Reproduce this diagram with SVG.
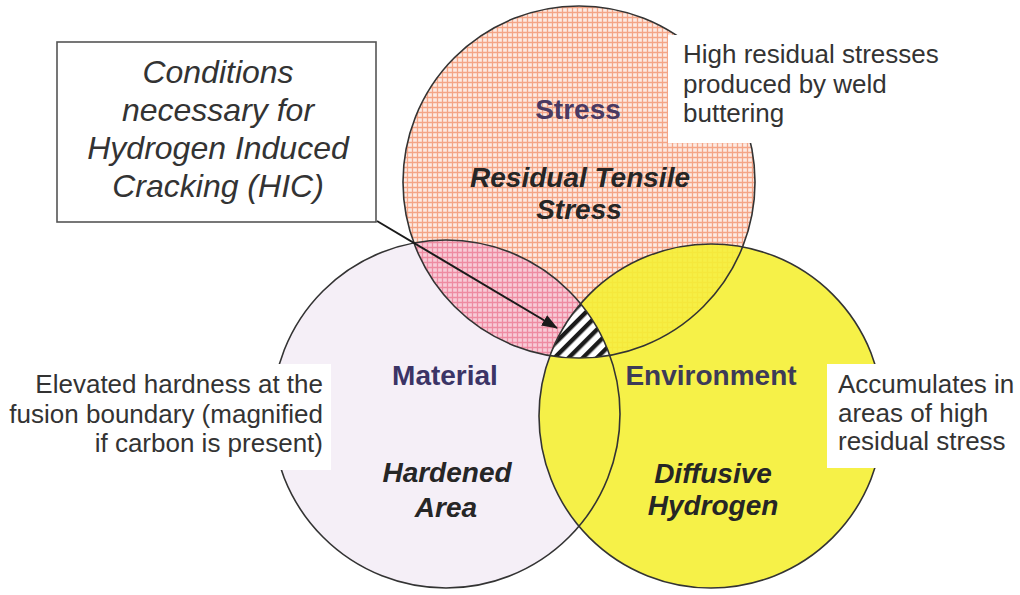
<svg xmlns="http://www.w3.org/2000/svg" width="1020" height="595" viewBox="0 0 1020 595">
<style>
.outline{fill:none;stroke:#333;stroke-width:1.6}
.head{font-family:"Liberation Sans",Arial,sans-serif;font-weight:bold;font-size:28px;text-anchor:middle}
.sub{font-family:"Liberation Sans",Arial,sans-serif;font-weight:bold;font-style:italic;font-size:28px;fill:#262626;text-anchor:middle}
.note{font-family:"Liberation Sans",Arial,sans-serif;font-size:26px;fill:#333}
.box{font-family:"Liberation Sans",Arial,sans-serif;font-style:italic;font-size:32px;fill:#333;text-anchor:middle}
</style>
<defs>
<pattern id="grid" width="5" height="5" patternUnits="userSpaceOnUse">
<rect width="5" height="5" fill="#fdebe4"/>
<path d="M0 2.5H5M2.5 0V5" stroke="#f4a486" stroke-width="1.3"/>
</pattern>
<pattern id="pink" width="5" height="5" patternUnits="userSpaceOnUse">
<rect width="5" height="5" fill="#f8ccd8"/>
<path d="M0 2.5H5M2.5 0V5" stroke="#ee8ba2" stroke-width="1.3"/>
</pattern>
<pattern id="hatch" width="10" height="10" patternUnits="userSpaceOnUse" patternTransform="rotate(45)">
<rect width="10" height="10" fill="#fff"/>
<rect x="3" width="4.4" height="10" fill="#1a1a1a"/>
</pattern>
<clipPath id="cM"><circle cx="446" cy="414" r="174"/></clipPath>
<clipPath id="cS"><circle cx="579" cy="182" r="176"/></clipPath>
<clipPath id="cE"><circle cx="711" cy="416" r="172"/></clipPath>
<marker id="arr" markerWidth="16" markerHeight="12" refX="15" refY="6" orient="auto" markerUnits="userSpaceOnUse">
<path d="M0 0L16 6L0 12Z" fill="#1a1a1a"/>
</marker>
</defs>
<rect width="1020" height="595" fill="#fff"/>

<g id="material">
<circle cx="446" cy="414" r="174" fill="#f5eff7"/>
</g>
<g id="stress">
<circle cx="579" cy="182" r="176" fill="url(#grid)"/>
<circle cx="579" cy="182" r="176" fill="url(#pink)" clip-path="url(#cM)"/>
</g>
<g id="environment">
<circle cx="711" cy="416" r="172" fill="#f5f034" fill-opacity="0.9"/>
</g>
<g id="overlap">
<g clip-path="url(#cS)"><circle cx="446" cy="414" r="174" fill="url(#hatch)" clip-path="url(#cE)"/></g>
</g>
<g id="outlines">
<circle class="outline" cx="446" cy="414" r="174"/>
<circle class="outline" cx="579" cy="182" r="176"/>
<circle class="outline" cx="711" cy="416" r="172"/>
</g>

<g id="labels">
<text class="head" x="578" y="119" fill="#4a3a62" font-size="27">Stress</text>
<text class="sub" x="580" y="187" textLength="220" lengthAdjust="spacingAndGlyphs" font-size="26">Residual Tensile</text>
<text class="sub" x="579" y="219" font-size="26">Stress</text>
<text class="head" x="445" y="385" fill="#3b3466">Material</text>
<text class="sub" x="447" y="482">Hardened</text>
<text class="sub" x="446" y="517">Area</text>
<text class="head" x="711" y="385" fill="#3d3b58">Environment</text>
<text class="sub" x="713" y="483">Diffusive</text>
<text class="sub" x="713" y="515">Hydrogen</text>
</g>

<g id="note-stress">
<rect x="668" y="35" width="282" height="108" fill="#fff"/>
<text class="note" x="683" y="63">High residual stresses</text>
<text class="note" x="683" y="93">produced by weld</text>
<text class="note" x="683" y="122">buttering</text>
</g>
<g id="note-material">
<rect x="0" y="364" width="331" height="106" fill="#fff"/>
<text class="note" x="323" y="393" text-anchor="end">Elevated hardness at the</text>
<text class="note" x="323" y="423" text-anchor="end">fusion boundary (magnified</text>
<text class="note" x="323" y="452" text-anchor="end">if carbon is present)</text>
</g>
<g id="note-environment">
<rect x="827" y="364" width="193" height="104" fill="#fff"/>
<text class="note" x="838" y="393">Accumulates in</text>
<text class="note" x="838" y="422">areas of high</text>
<text class="note" x="838" y="450">residual stress</text>
</g>

<g id="hic-box">
<rect x="57" y="42" width="319" height="180" fill="#fff" stroke="#555" stroke-width="1.6"/>
<text class="box" x="218" y="83">Conditions</text>
<text class="box" x="218" y="121">necessary for</text>
<text class="box" x="218" y="159">Hydrogen Induced</text>
<text class="box" x="218" y="197">Cracking (HIC)</text>
</g>

<g id="connectors">
<line x1="377" y1="221" x2="557" y2="328" stroke="#1a1a1a" stroke-width="2" marker-end="url(#arr)"/>
</g>
</svg>
